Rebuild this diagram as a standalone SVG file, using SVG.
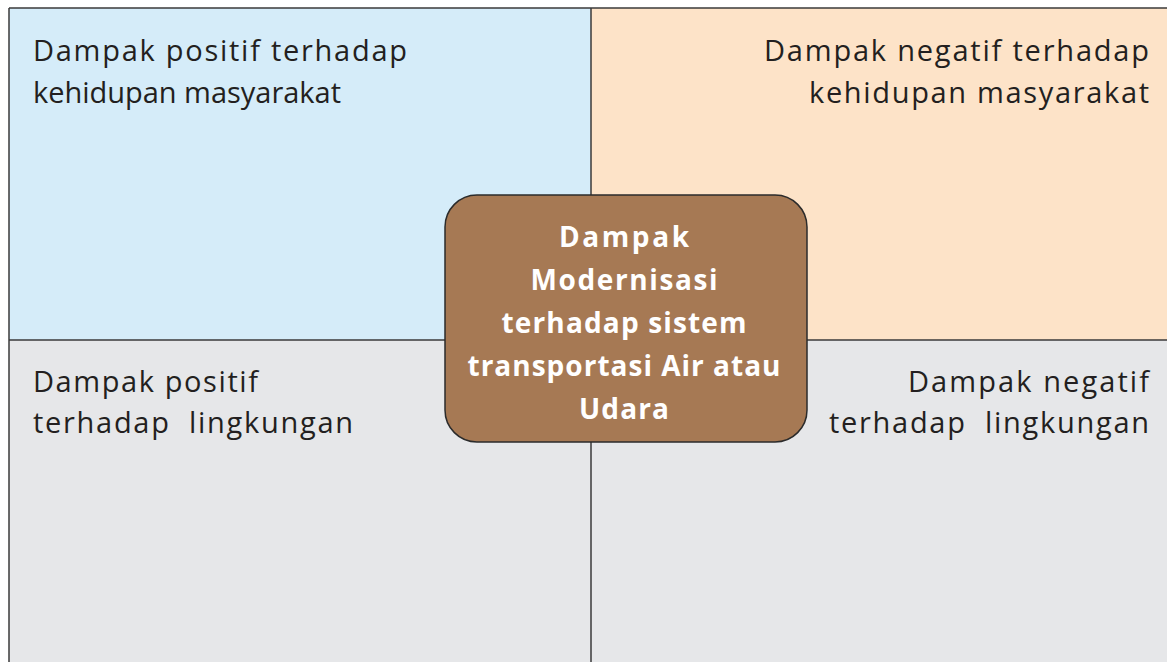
<svg xmlns="http://www.w3.org/2000/svg" width="1167" height="662" viewBox="0 0 1167 662">
<style>
.q{stroke:none}
.lbl{font-family:"Open Sans","Liberation Sans",sans-serif;font-size:29px;fill:#231f20}
.ctr{font-family:"Open Sans","Liberation Sans",sans-serif;font-size:28px;font-weight:bold;fill:#ffffff;text-anchor:middle}
.ln{stroke:#3a3a3a;stroke-width:1.5;fill:none}
</style>
<rect width="1167" height="662" fill="#ffffff"/>
<g id="q-tl"><rect class="q" x="9" y="8" width="582" height="332" fill="#d5ecf9"/>
<text class="lbl" x="33" y="61" textLength="374" lengthAdjust="spacing">Dampak positif terhadap</text>
<text class="lbl" x="33" y="103" textLength="308" lengthAdjust="spacing">kehidupan masyarakat</text></g>
<g id="q-tr"><rect class="q" x="591" y="8" width="576" height="332" fill="#fde3c8"/>
<text class="lbl" x="1149" y="61" text-anchor="end" textLength="385" lengthAdjust="spacing">Dampak negatif terhadap</text>
<text class="lbl" x="1149" y="103" text-anchor="end" textLength="340" lengthAdjust="spacing">kehidupan masyarakat</text></g>
<g id="q-bl"><rect class="q" x="9" y="340" width="582" height="322" fill="#e6e7e9"/>
<text class="lbl" x="33" y="392" textLength="225" lengthAdjust="spacing">Dampak positif</text>
<text class="lbl" x="33" y="433" xml:space="preserve" textLength="320" lengthAdjust="spacing">terhadap  lingkungan</text></g>
<g id="q-br"><rect class="q" x="591" y="340" width="576" height="322" fill="#e6e7e9"/>
<text class="lbl" x="1149" y="392" text-anchor="end" textLength="241" lengthAdjust="spacing">Dampak negatif</text>
<text class="lbl" x="1149" y="433" text-anchor="end" xml:space="preserve" textLength="320" lengthAdjust="spacing">terhadap  lingkungan</text></g>
<g id="grid">
<line class="ln" x1="9" y1="8" x2="1167" y2="8"/>
<line class="ln" x1="9" y1="8" x2="9" y2="662"/>
<line class="ln" x1="591" y1="8" x2="591" y2="662"/>
<line class="ln" x1="9" y1="340" x2="1167" y2="340"/>
</g>
<g id="center">
<rect x="445" y="195" width="362" height="247" rx="32" ry="32" fill="#a67954" stroke="#2b2b2b" stroke-width="1.5"/>
<text class="ctr" x="624" y="247" textLength="130" lengthAdjust="spacing">Dampak</text>
<text class="ctr" x="624" y="290" textLength="187" lengthAdjust="spacing">Modernisasi</text>
<text class="ctr" x="624" y="333" textLength="245" lengthAdjust="spacing">terhadap sistem</text>
<text class="ctr" x="624" y="376" textLength="313" lengthAdjust="spacing">transportasi Air atau</text>
<text class="ctr" x="624" y="419" textLength="90" lengthAdjust="spacing">Udara</text>
</g>
</svg>
